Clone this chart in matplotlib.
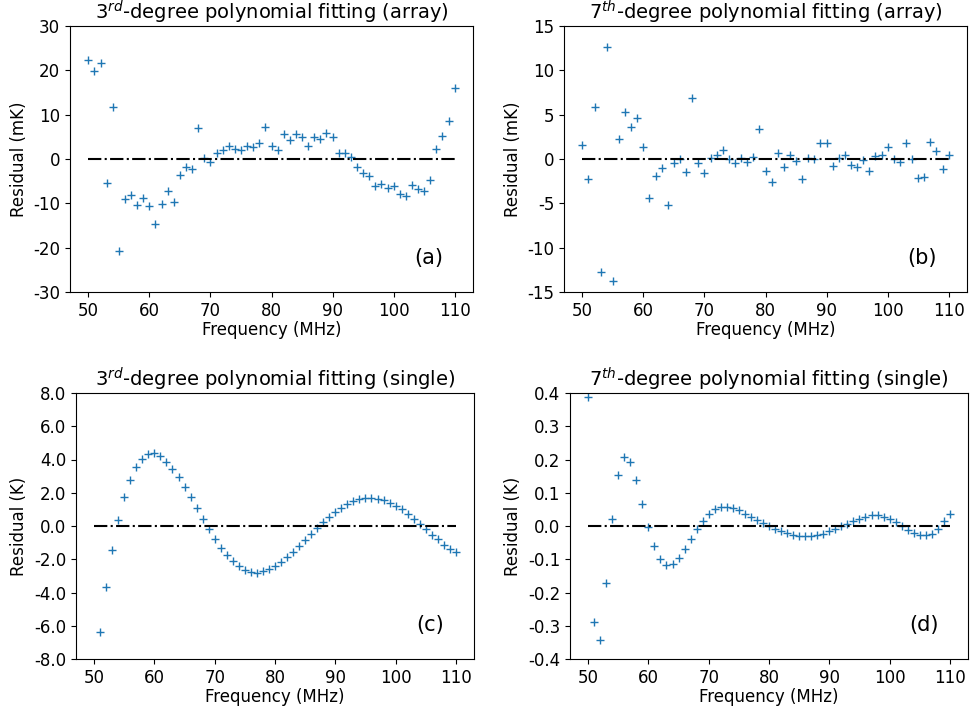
import numpy as np
import matplotlib
matplotlib.use("Agg")
import matplotlib.pyplot as plt
from matplotlib.ticker import FuncFormatter

plt.rcParams['axes.unicode_minus'] = False

freq_a = list(range(50, 111))
res_a = [22.4, 19.8, 21.7, -5.5, 11.8, -20.8, -9.1, -8.1, -10.4, -8.7,
         -10.7, -14.6, -10.1, -7.3, -9.7, -3.5, -1.7, -2.3, 6.9, 0.15,
         -0.6, 1.4, 2.1, 2.9, 2.2, 2.0, 2.9, 2.8, 3.7, 7.3,
         2.9, 2.0, 5.6, 4.3, 5.6, 5.0, 2.9, 5.0, 4.5, 5.8,
         5.0, 1.4, 1.4, 0.5, -1.8, -3.2, -3.8, -6.2, -5.7, -6.5,
         -6.2, -8.0, -8.4, -5.9, -6.7, -7.2, -4.7, 2.3, 5.3, 8.5,
         16.0]

freq_b = list(range(50, 111))
res_b = [1.55, -2.3, 5.9, -12.75, 12.6, -13.8, 2.2, 5.3, 3.6, 4.6,
         1.3, -4.45, -1.9, -1.0, -5.2, -0.4, 0.04, -1.5, 6.9, -0.4,
         -1.6, 0.1, 0.5, 1.05, 0.0, -0.45, 0.15, -0.3, 0.25, 3.4,
         -1.3, -2.6, 0.7, -0.9, 0.4, -0.2, -2.3, 0.1, 0.0, 1.85,
         1.85, -0.75, 0.15, 0.5, -0.7, -0.9, -0.1, -1.35, 0.3, 0.45,
         1.4, 0.05, -0.3, 1.8, -0.05, -2.15, -2.05, 1.95, 0.85, -1.1,
         0.45]

freq_c = list(range(51, 111))
res_c = [-6.37, -3.69, -1.46, 0.34, 1.74, 2.79, 3.57, 4.05, 4.33,
         4.37, 4.23, 3.87, 3.43, 2.95, 2.34, 1.72, 1.06, 0.42, -0.18,
         -0.78, -1.32, -1.76, -2.12, -2.42, -2.66, -2.77, -2.81, -2.73, -2.59,
         -2.41, -2.18, -1.88, -1.58, -1.2, -0.82, -0.48, -0.12, 0.24, 0.54,
         0.84, 1.08, 1.34, 1.5, 1.6, 1.66, 1.68, 1.64, 1.54, 1.4,
         1.22, 1.02, 0.74, 0.44, 0.12, -0.2, -0.52, -0.8, -1.12, -1.36,
         -1.58]

freq_d = list(range(50, 111))
res_d = [0.388, -0.29, -0.342, -0.17, 0.021, 0.154, 0.207, 0.193, 0.139, 0.067,
         -0.003, -0.061, -0.099, -0.116, -0.114, -0.095, -0.07, -0.04, -0.01, 0.016,
         0.036, 0.05, 0.056, 0.057, 0.053, 0.047, 0.037, 0.028, 0.017, 0.009,
         0.0, -0.008, -0.015, -0.021, -0.026, -0.029, -0.031, -0.031, -0.028, -0.023,
         -0.016, -0.009, -0.001, 0.006, 0.015, 0.022, 0.028, 0.032, 0.033, 0.028,
         0.022, 0.013, 0.0, -0.011, -0.02, -0.027, -0.027, -0.024, -0.009, 0.014,
         0.037]

titles = [r"3$^{rd}$-degree polynomial fitting (array)",
          r"7$^{th}$-degree polynomial fitting (array)",
          r"3$^{rd}$-degree polynomial fitting (single)",
          r"7$^{th}$-degree polynomial fitting (single)"]
ylabels = ["Residual (mK)", "Residual (mK)", "Residual (K)", "Residual (K)"]
letters = ["(a)", "(b)", "(c)", "(d)"]
ylims = [(-30, 30), (-15, 15), (-8, 8), (-0.4, 0.4)]
ysteps = [10, 5, 2, 0.1]
ydecimals = [0, 0, 1, 1]

fig = plt.figure(figsize=(9.71, 7.12), dpi=100)
W, H = 971, 712
rects = [(70, 26, 473, 292), (564, 26, 967, 292),
         (76, 393, 474, 659), (570, 393, 968, 659)]
data = [(freq_a, res_a), (freq_b, res_b), (freq_c, res_c), (freq_d, res_d)]


def make_fmt(nd):
    def fmt(v, pos):
        v = round(v, nd)
        if v == 0:
            v = 0.0
        return f"{v:.{nd}f}"
    return FuncFormatter(fmt)


for i in range(4):
    l, t, r, b = rects[i]
    ax = fig.add_axes([l / W, 1 - b / H, (r - l) / W, (b - t) / H])
    f, v = data[i]
    ax.plot(f, v, '+', color='#1f77b4', markersize=6)
    ax.plot([50, 110], [0, 0], '-.', color='k', linewidth=1.5)
    ax.set_xlim(47, 113)
    lo, hi = ylims[i]
    ax.set_ylim(lo, hi)
    ax.set_yticks(np.arange(lo, hi + ysteps[i] / 2, ysteps[i]))
    ax.yaxis.set_major_formatter(make_fmt(ydecimals[i]))
    ax.set_xticks([50, 60, 70, 80, 90, 100, 110])
    ax.tick_params(labelsize=12)
    ax.set_title(titles[i], fontsize=14, pad=4)
    ax.set_xlabel("Frequency (MHz)", fontsize=12, labelpad=1)
    ax.set_ylabel(ylabels[i], fontsize=12)
    ax.text(0.889, 0.128, letters[i], transform=ax.transAxes, fontsize=15,
            ha='center', va='center')

fig.savefig("out.png", dpi=100)
